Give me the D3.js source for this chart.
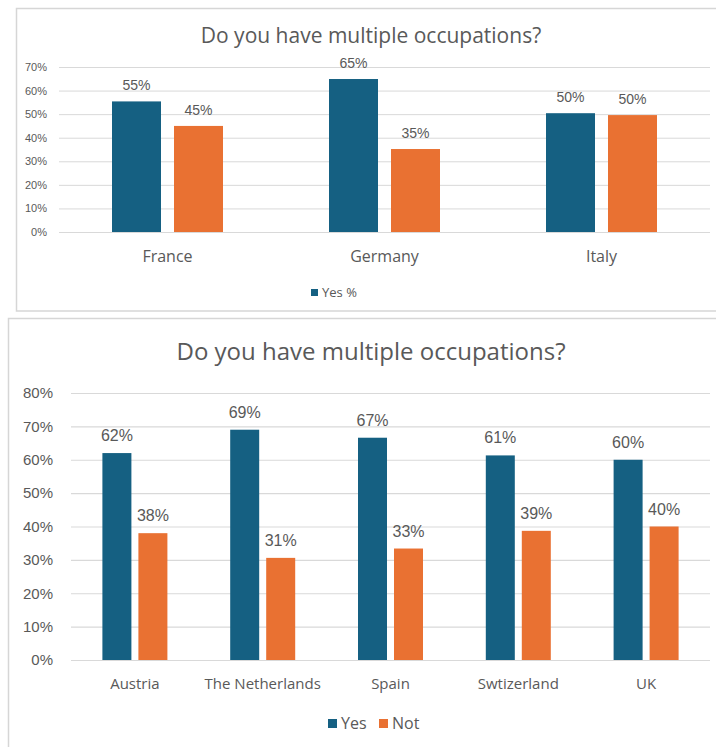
<!DOCTYPE html>
<html>
<head>
<meta charset="utf-8">
<script src="https://cdn.jsdelivr.net/npm/d3@7"></script>
<style>
  html, body { margin: 0; padding: 0; background: #ffffff; }
  svg { display: block; }
</style>
</head>
<body>
<svg id="chart" width="716" height="747"></svg>
<script>
// ---------- data ----------
const titleText = "Do you have multiple occupations?";

const topCategories = ["France", "Germany", "Italy"];
const topYes = [55.4, 64.9, 50.4];
const topNot = [45.0, 35.2, 49.6];
const topTicks = [0, 10, 20, 30, 40, 50, 60, 70];
const topLegend = ["Yes %"];

const bottomCategories = ["Austria", "The Netherlands", "Spain", "Swtizerland", "UK"];
const bottomYes = [62.0, 69.0, 66.6, 61.3, 60.0];
const bottomNot = [38.0, 30.6, 33.4, 38.7, 40.0];
const bottomTicks = [0, 10, 20, 30, 40, 50, 60, 70, 80];
const bottomLegend = ["Yes", "Not"];

const seriesKeys = ["yes", "not"];
const colors = { yes: "#156082", not: "#E97132" };
const textColor = "#595959";
const gridColor = "#d9d9d9";
const labelFont = "'Liberation Sans', Arial, sans-serif";
const catFont = "'Open Sans', 'Noto Sans', sans-serif";

const svg = d3.select("#chart");

function drawPanel(cfg) {
  const g = svg.append("g");
  // panel border
  g.append("rect")
    .attr("x", cfg.box[0]).attr("y", cfg.box[1])
    .attr("width", cfg.box[2]).attr("height", cfg.box[3])
    .attr("fill", "#fff").attr("stroke", "#d6d6d6").attr("stroke-width", 1.5);

  // title
  g.append("text")
    .attr("x", cfg.titleX).attr("y", cfg.titleY)
    .attr("text-anchor", "middle")
    .attr("font-family", catFont)
    .attr("font-size", cfg.titleSize)
    .attr("fill", textColor)
    .text(titleText);

  const y = d3.scaleLinear().domain(cfg.yDomain).range([cfg.y0, cfg.y1]);
  const x0 = d3.scaleBand().domain(cfg.categories).range([cfg.xl, cfg.xr]).padding(0);
  const x1 = d3.scaleBand().domain(seriesKeys).range([0, cfg.groupW]).paddingInner(cfg.innerPad).paddingOuter(0);
  const off = (x0.bandwidth() - cfg.groupW) / 2;

  // gridlines
  const yAxis = d3.axisLeft(y).tickValues(cfg.ticks).tickSize(-(cfg.xr - cfg.xl))
    .tickFormat(d => d + "%").tickPadding(cfg.tickPad);
  const ax = g.append("g").attr("transform", `translate(${cfg.xl},0)`).call(yAxis);
  ax.select(".domain").remove();
  ax.selectAll(".tick line").attr("stroke", gridColor).attr("stroke-width", cfg.gridW);
  ax.selectAll(".tick text")
    .attr("fill", textColor)
    .attr("font-family", labelFont)
    .attr("font-size", cfg.tickSize);

  // bars
  const rows = cfg.categories.map((c, i) => ({ cat: c, yes: cfg.yes[i], not: cfg.not[i] }));
  const grp = g.selectAll(".grp").data(rows).enter().append("g")
    .attr("transform", d => `translate(${x0(d.cat) + off},0)`);
  grp.selectAll("rect").data(d => seriesKeys.map(k => ({ k, v: d[k] }))).enter().append("rect")
    .attr("x", d => x1(d.k))
    .attr("width", x1.bandwidth())
    .attr("y", d => y(d.v))
    .attr("height", d => y(0) - y(d.v))
    .attr("fill", d => colors[d.k]);
  grp.selectAll("text.lbl").data(d => seriesKeys.map(k => ({ k, v: d[k] }))).enter().append("text")
    .attr("class", "lbl")
    .attr("x", d => x1(d.k) + x1.bandwidth() / 2)
    .attr("y", d => y(d.v) - cfg.lblGap)
    .attr("text-anchor", "middle")
    .attr("font-family", labelFont)
    .attr("font-size", cfg.lblSize)
    .attr("fill", textColor)
    .text(d => Math.round(d.v) + "%");

  // category labels
  g.selectAll(".cat").data(cfg.categories).enter().append("text")
    .attr("x", d => x0(d) + x0.bandwidth() / 2)
    .attr("y", cfg.catY)
    .attr("text-anchor", "middle")
    .attr("font-family", catFont)
    .attr("font-size", cfg.catSize)
    .attr("fill", textColor)
    .text(d => d);

  // legend
  cfg.legend.forEach((name, i) => {
    const lx = cfg.legendX[i];
    g.append("rect")
      .attr("x", lx).attr("y", cfg.legendY - cfg.legSq - 1)
      .attr("width", cfg.legSq).attr("height", cfg.legSq)
      .attr("fill", colors[seriesKeys[i]]);
    g.append("text")
      .attr("x", lx + cfg.legSq + 4).attr("y", cfg.legendY)
      .attr("font-family", catFont)
      .attr("font-size", cfg.legSize)
      .attr("fill", textColor)
      .text(name);
  });
}

drawPanel({
  box: [16.5, 8.5, 720, 302.5],
  titleX: 371, titleY: 43, titleSize: 21,
  categories: topCategories, yes: topYes, not: topNot,
  yDomain: [0, 70], y0: 232, y1: 67, ticks: topTicks,
  xl: 59, xr: 710, groupW: 111, innerPad: 13 / 62,
  gridW: 1, tickPad: 12, tickSize: 11,
  lblGap: 11, lblSize: 14,
  catY: 262, catSize: 16,
  legend: topLegend, legendX: [311], legendY: 297, legSq: 7, legSize: 13
});

drawPanel({
  box: [8.5, 318.5, 720, 440],
  titleX: 371, titleY: 360, titleSize: 24,
  categories: bottomCategories, yes: bottomYes, not: bottomNot,
  yDomain: [0, 80], y0: 660, y1: 393, ticks: bottomTicks,
  xl: 71, xr: 710, groupW: 65, innerPad: 7 / 36,
  gridW: 1.2, tickPad: 18, tickSize: 15,
  lblGap: 12, lblSize: 16,
  catY: 689, catSize: 15,
  legend: bottomLegend, legendX: [328, 379], legendY: 729, legSq: 9, legSize: 16
});
</script>
</body>
</html>
